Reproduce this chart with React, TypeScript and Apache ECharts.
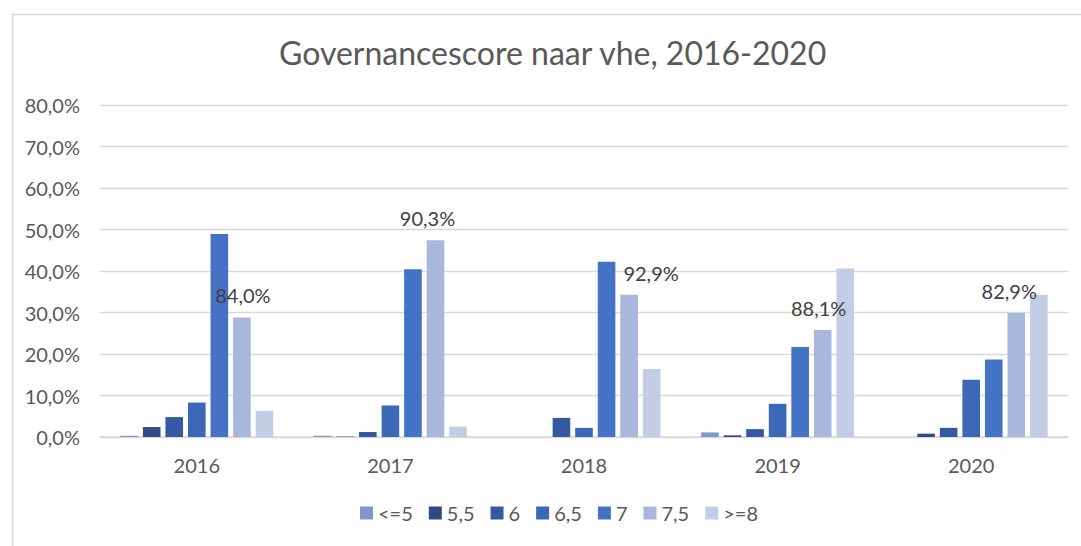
import React, { useEffect, useRef } from "react";
import * as echarts from "echarts";

const years = ["2016", "2017", "2018", "2019", "2020"];
const seriesNames = ["<=5", "5,5", "6", "6,5", "7", "7,5", ">=8"];
const le5 = [0.3, 0.3, 0, 1.1, 0];
const s55 = [2.4, 0.1, 0, 0.4, 0.8];
const s6 = [4.8, 1.2, 4.6, 1.9, 2.2];
const s65 = [8.3, 7.6, 2.2, 8.0, 13.8];
const s7 = [48.9, 40.4, 42.2, 21.7, 18.7];
const s75 = [28.8, 47.4, 34.3, 25.8, 29.9];
const ge8 = [6.3, 2.5, 16.4, 40.6, 34.3];
const totals = ["84,0%", "90,3%", "92,9%", "88,1%", "82,9%"];
const yTicks = [0, 10, 20, 30, 40, 50, 60, 70, 80];

const colors = ["#7F97CF", "#2F4B87", "#335AA0", "#3C69B7", "#4472C4", "#A9B7DC", "#C3CDE6"];
const labelDx = [1, -8, 22, -4, -7];

export default function App() {
  const ref = useRef<HTMLDivElement>(null);
  useEffect(() => {
    if (!ref.current) return;
    const chart = echarts.init(ref.current, undefined, { renderer: "svg" });
    const values = [le5, s55, s6, s65, s7, s75, ge8];
    const font = "Lato";
    const series: any[] = values.map((vals, i) => ({
      name: seriesNames[i],
      type: "bar",
      barGap: "28%",
      barCategoryGap: "21%",
      itemStyle: { color: colors[i] },
      data:
        i === 5
          ? vals.map((v, j) => ({
              value: v,
              label: {
                show: true,
                position: "top",
                distance: 12,
                offset: [labelDx[j], 0],
                formatter: () => totals[j],
                color: "#404040",
                fontSize: 20,
                fontFamily: font,
              },
            }))
          : vals,
    }));
    chart.setOption({
      animation: false,
      backgroundColor: "#ffffff",
      color: colors,
      title: {
        text: "Governancescore naar vhe, 2016-2020",
        left: 274,
        top: 31,
        textStyle: { color: "#595959", fontSize: 32, fontWeight: "normal", fontFamily: font },
      },
      graphic: [
        {
          type: "rect",
          left: 10,
          top: 12,
          shape: { width: 1200, height: 600 },
          style: { fill: "none", stroke: "#D9D9D9", lineWidth: 1.5 },
          silent: true,
        },
      ],
      grid: { left: 100, right: 13, top: 105, bottom: 109 },
      legend: {
        data: seriesNames,
        bottom: 18,
        left: 355,
        icon: "rect",
        itemWidth: 13,
        itemHeight: 13,
        itemGap: 16,
        textStyle: { color: "#595959", fontSize: 20, fontFamily: font },
      },
      xAxis: {
        type: "category",
        data: years,
        axisLine: { lineStyle: { color: "#D9D9D9", width: 1.5 } },
        axisTick: { show: false },
        axisLabel: { color: "#595959", fontSize: 20, fontFamily: font, margin: 18 },
      },
      yAxis: {
        type: "value",
        min: yTicks[0],
        max: yTicks[yTicks.length - 1],
        interval: 10,
        axisLine: { show: false },
        axisTick: { show: false },
        splitLine: { lineStyle: { color: "#D9D9D9", width: 1.3 } },
        axisLabel: {
          color: "#595959",
          fontSize: 20,
          fontFamily: font,
          margin: 20,
          formatter: (v: number) => v.toFixed(1).replace(".", ",") + "%",
        },
      },
      series,
    });
    return () => chart.dispose();
  }, []);
  return (
    <div
      ref={ref}
      style={{ position: "fixed", left: 0, top: 0, width: 1081, height: 546, background: "#fff" }}
    />
  );
}
